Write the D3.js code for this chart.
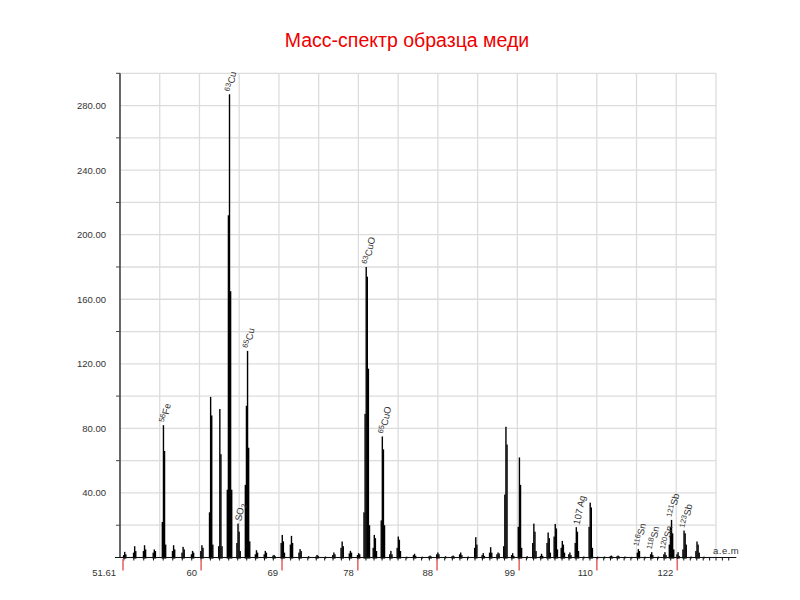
<!DOCTYPE html>
<html><head><meta charset="utf-8">
<script src="https://cdn.jsdelivr.net/npm/d3@7"></script>
<style>body{margin:0;background:#fff;} svg{display:block;font-family:"Liberation Sans",Arial,sans-serif;}</style>
</head><body><svg id="c" width="800" height="600"></svg>
<script>
// ---- data ----
const titleText = "Масс-спектр образца меди";
const peakMass = [52,53,54,55,56,57,58,59,60,61,62,63,64,65,66,67,68,69,70,71,72,73,74,75,76,77,78,79,80,81,82,83,84,85,86,87,88,89,90,91,92,93,94,95,96,97,98,99,100,101,102,103,104,105,106,107,108,109,110,111,112,113,114,115,116,117,118,119,120,121,122,123,124,125,126];
const peakShape = [
  [1.5,3.5,2],[3,7,4],[4,7.6,5],[3,5,4],[22,82,66,8],[4,7.6,5],[3,6.6,5],[2,4.1,3],[4,7.6,6],
  [28,99.5,88,8],[7,92,64,7],[42,212,287,165,42],[9,21,16,4],[45,94,128,68,10],
  [2,4.5,3],[2,4.1,3],[1.2,1.6,0.8],[9,14,10,3],[8,13.4,9],[3,5.2,4],[0.8],
  [0.6,1.6,1],[0.6],[1.5,3.1,2],[6,9.9,7],[2.5,4.1,3],[1.5,2.7,2],
  [28,89,180,174,117,20],[6,14,12,4],[23,75,67,20],[2,4.1,2],[6,13,11,4],
  [0.5],[1.5,2.3,1],[0.5],[0.8,1.2,0.6],[2,3.1,2],[0.8],[0.8,1.2,0.6],[2,3.1,1.5],[0.6],
  [6,12.6,8],[1.5,2.7,1],[3,6.4,3],[2,3.1,2.5],[7,39,81,70],[1.5,2.7,1],[19,62,45,6],[0.8],
  [9,21,16,4],[1,2.3,1],[9,15.5,12,3],[13,20.8,18,5],[6,10.3,8,3],[2,3.1,1.5],[9,18.8,16,4],
  [0.6],[19,34,31,6],[0.5],[0.6],[0.8,1.2,0.6],[0.8,1.2,0.6],[0.6],[0.4],
  [3,5.2,4],[0.5],[2,3.3,1.5],[0.6],[2,3.3,1.5],[8,19,23.3,15,5],[2,3.3,1],[5,16.7,15,8],[0.6],[4,9.9,8,3],[0.5]
];
const xTickValues = [51.61, 60, 69, 78, 88, 99, 110, 122];
const xTickLabels = ["51.61", "60", "69", "78", "88", "99", "110", "122"];
const xUnitLabel = "a.e.m";
const yLabelValues = [40, 80, 120, 160, 200, 240, 280];
const yMinorValues = [20, 60, 100, 140, 180, 220, 260, 300];
const labelMass = [56, 63, 64, 65, 79, 81, 107, 116, 118, 120, 121, 123];
const labelIso  = ["56", "63", "", "65", "63", "65", "107 ", "116", "118", "120", "121", "123"];
const labelEl   = ["Fe", "Cu", "SO", "Cu", "CuO", "CuO", "Ag", "Sn", "Sn", "Sn", "Sb", "Sb"];
const labelSub  = ["", "", "2", "", "", "", "", "", "", "", "", ""];
const labelSup  = [true, true, false, true, true, true, false, true, true, true, true, true];

// ---- chart ----
const svg = d3.select("#c");
const x = d3.scaleSqrt().domain([51.61, 128]).range([120, 716]);
const y = d3.scaleLinear().domain([0, 300]).range([557.5, 73.3]);
const y0 = y(0);

svg.append("text").attr("x", 407).attr("y", 47).attr("text-anchor", "middle")
  .attr("font-size", 19.5).attr("fill", "#ee0000").text(titleText);

// grid
const g = svg.append("g");
g.selectAll(".hg").data(d3.range(0, 301, 20)).join("line")
  .attr("x1", x(51.61)).attr("x2", x(128)).attr("y1", d => y(d)).attr("y2", d => y(d))
  .attr("stroke", "#dcdcdc").attr("stroke-width", 1.3);
const xr = x.range();
const gridMasses = d3.range(16).map(i => x.invert(xr[0] + i * (xr[1] - xr[0]) / 15));
g.selectAll(".vg").data(gridMasses).join("line")
  .attr("x1", d => x(d)).attr("x2", d => x(d)).attr("y1", y(300)).attr("y2", y0)
  .attr("stroke", "#dcdcdc").attr("stroke-width", 1.3);

// y axis
svg.append("line").attr("x1", x(51.61)).attr("x2", x(51.61)).attr("y1", y(300)).attr("y2", y0)
  .attr("stroke", "#222").attr("stroke-width", 1.3);
svg.selectAll(".ym").data(yMinorValues).join("line")
  .attr("x1", x(51.61) - 4).attr("x2", x(51.61)).attr("y1", d => y(d)).attr("y2", d => y(d))
  .attr("stroke", "#444").attr("stroke-width", 1);
svg.selectAll(".yl").data(yLabelValues).join("text")
  .attr("x", 106).attr("y", d => y(d) + 3.5).attr("text-anchor", "end")
  .attr("font-size", 9.5).attr("fill", "#333").text(d => d3.format(".2f")(d));

// bars
const bars = svg.append("g");
peakMass.forEach((m, i) => {
  const hs = peakShape[i], n = hs.length;
  hs.forEach((h, j) => {
    const cx = x(m) + 0.8 + (j - (n - 1) / 2) * 1.1;
    bars.append("rect").attr("x", cx - 0.7).attr("width", 1.4)
      .attr("y", y(h)).attr("height", y0 - y(h) + 1).attr("fill", "#000");
  });
});

// x axis
const xEnd = x(131.2);
svg.append("line").attr("x1", x(51.61) - 5).attr("x2", xEnd).attr("y1", y0).attr("y2", y0)
  .attr("stroke", "#111").attr("stroke-width", 1.2);
svg.selectAll(".xm").data(d3.range(52, 131)).join("line")
  .attr("x1", d => x(d)).attr("x2", d => x(d)).attr("y1", y0).attr("y2", y0 + 3)
  .attr("stroke", "#111").attr("stroke-width", 1);
svg.selectAll(".xr").data(xTickValues).join("line")
  .attr("x1", d => x(d) + (d === 51.61 ? 3 : 0)).attr("x2", d => x(d) + (d === 51.61 ? 3 : 0))
  .attr("y1", y0 + 1.5).attr("y2", y0 + 13)
  .attr("stroke", "#e86a6a").attr("stroke-width", 1.6);
svg.selectAll(".xl").data(xTickValues).join("text")
  .attr("x", d => x(d) - 4).attr("y", y0 + 18).attr("text-anchor", "end")
  .attr("font-size", 9.5).attr("fill", "#333").text((d, i) => xTickLabels[i]);
svg.append("text").attr("x", xEnd + 3).attr("y", y0 - 4).attr("text-anchor", "end")
  .attr("font-size", 9.5).attr("fill", "#333").attr("letter-spacing", 0.5).text(xUnitLabel);

// peak labels
labelMass.forEach((m, i) => {
  const idx = peakMass.indexOf(m);
  const top = d3.max(peakShape[idx]);
  const t = svg.append("text")
    .attr("transform", `translate(${x(m) + 3.5},${y(top) - 2}) rotate(-78)`)
    .attr("font-size", 9.5).attr("fill", "#333");
  if (labelIso[i]) {
    if (labelSup[i]) {
      t.append("tspan").attr("font-size", 7.5).attr("dy", -3).text(labelIso[i]);
      t.append("tspan").attr("dy", 3).text(labelEl[i]);
    } else {
      t.append("tspan").text(labelIso[i] + labelEl[i]);
    }
  } else {
    t.append("tspan").text(labelEl[i]);
  }
  if (labelSub[i]) t.append("tspan").attr("font-size", 7.5).attr("dy", 2).text(labelSub[i]);
});
</script></body></html>
